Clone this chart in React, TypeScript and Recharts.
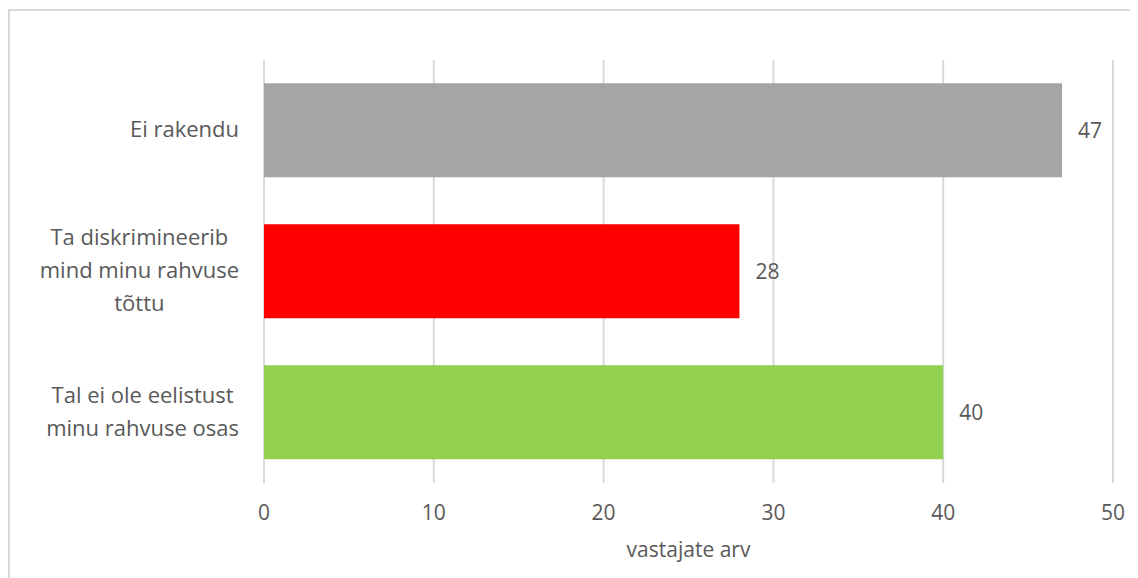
import React from "react";
import { BarChart, Bar, XAxis, YAxis, CartesianGrid, Cell, LabelList } from "recharts";

const categories = [
  "Ei rakendu",
  "Ta diskrimineerib\nmind minu rahvuse\ntõttu",
  "Tal ei ole eelistust\nminu rahvuse osas",
];
const values = [47, 28, 40];
const colors = ["#a5a5a5", "#ff0000", "#92d050"];
const xTicks = [0, 10, 20, 30, 40, 50];

const data = categories.map((name, i) => ({ name, value: values[i] }));

const FONT = "'Open Sans', sans-serif";
const TEXT = "#595959";
const SIZE = 21;
const CAT_SIZE = 22;

let ctx: CanvasRenderingContext2D | null = null;
function measure(s: string) {
  if (!ctx) ctx = document.createElement("canvas").getContext("2d");
  if (!ctx) return s.length * CAT_SIZE * 0.5;
  ctx.font = `${CAT_SIZE}px 'Open Sans'`;
  return ctx.measureText(s).width;
}

function CategoryTick(props: any) {
  const { x, y, payload } = props;
  const lines = String(payload.value).split("\n");
  const lh = 33;
  const start = y - 1 - ((lines.length - 1) * lh) / 2;
  const blockW = Math.max(...lines.map(measure));
  const right = x - 25;
  const cx = right - blockW / 2;
  return (
    <text x={cx} y={start} textAnchor="middle" fill={TEXT} fontSize={CAT_SIZE} fontFamily={FONT}>
      {lines.map((l, i) => (
        <tspan key={i} x={cx} y={start + i * lh} dy="0.35em">
          {l}
        </tspan>
      ))}
    </text>
  );
}

export default function App() {
  return (
    <div style={{ width: 1129, height: 570, borderTop: "2px solid #d9d9d9", borderLeft: "2px solid #d9d9d9", borderRight: "2px solid #d9d9d9", boxSizing: "border-box", marginTop: 1 }}>
      <BarChart
        width={1125}
        height={568}
        data={data}
        layout="vertical"
        barCategoryGap="16.5%"
        margin={{ top: 49, right: 22, bottom: 16, left: 0 }}
      >
        <CartesianGrid horizontal={false} stroke="#d9d9d9" strokeWidth={2} />
        <XAxis
          type="number"
          domain={[0, 50]}
          ticks={xTicks}
          axisLine={false}
          tickLine={false}
          tickSize={0}
          tickMargin={22}
          height={80}
          tick={{ fill: TEXT, fontSize: SIZE, fontFamily: FONT }}
          label={{ value: "vastajate arv", position: "insideBottom", offset: 6, fill: TEXT, fontSize: SIZE, fontFamily: FONT }}
        />
        <YAxis
          type="category"
          dataKey="name"
          axisLine={false}
          tickLine={false}
          tickSize={0}
          tickMargin={0}
          width={254}
          tick={<CategoryTick />}
        />
        <Bar dataKey="value" isAnimationActive={false}>
          {data.map((d, i) => (
            <Cell key={d.name} fill={colors[i]} />
          ))}
          <LabelList dataKey="value" position="right" offset={16} fill={TEXT} fontSize={SIZE} fontFamily={FONT} />
        </Bar>
      </BarChart>
    </div>
  );
}
